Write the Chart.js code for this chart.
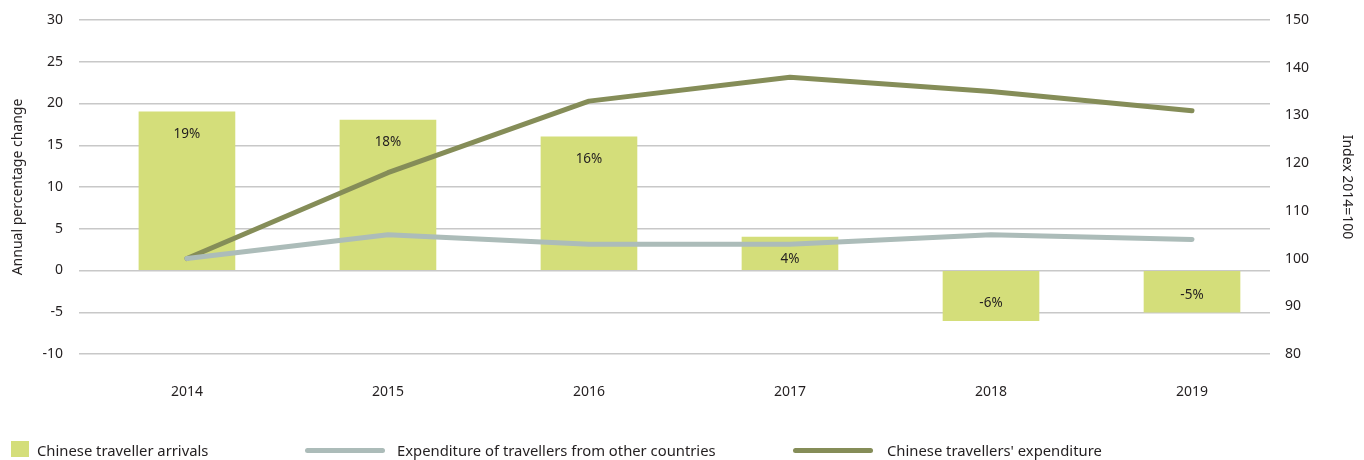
<!DOCTYPE html>
<html>
<head>
<meta charset="utf-8">
<script src="https://cdn.jsdelivr.net/npm/chart.js@4.4.1/dist/chart.umd.min.js"></script>
<style>
  html, body { margin: 0; padding: 0; background: #ffffff; }
  #wrap { position: relative; width: 1364px; height: 460px; }
  #chart { position: absolute; left: 0; top: 0; }
  .legend-item { position: absolute; top: 440px; height: 20px; font-family: "Noto Sans", sans-serif; font-size: 14.8px; color: #231f20; white-space: nowrap; line-height: 20px; }
  .swatch { position: absolute; }
</style>
</head>
<body>
<div id="wrap">
  <canvas id="chart" width="1364" height="460"></canvas>
  <div id="legend"></div>
</div>
<script>
// Years on the horizontal axis
const categories = ['2014', '2015', '2016', '2017', '2018', '2019'];
// Annual percentage change in Chinese traveller arrivals (left axis)
const arrivals = [19, 18, 16, 4, -6, -5];
// Expenditure indices, 2014 = 100 (right axis)
const otherExpenditure = [100, 105, 103, 103, 105, 104];
const chineseExpenditure = [100, 118, 133, 138, 135, 131];
// Axis tick ranges
const leftTicks = { min: -10, max: 30, step: 5 };
const rightTicks = { min: 80, max: 150, step: 10 };

const seriesNames = ['Chinese traveller arrivals', 'Expenditure of travellers from other countries', "Chinese travellers' expenditure"];
const colors = { bar: '#d4de7a', other: '#acbcb9', chinese: '#858d58' };

const FONT = '"Noto Sans", sans-serif';
const TEXT = '#231f20';

const toPoints = arr => arr.map((v, i) => ({ x: i, y: v }));

// Percentage labels written inside the end of each bar
const barLabels = {
  id: 'barLabels',
  afterDatasetsDraw(chart) {
    const meta = chart.getDatasetMeta(0);
    const ctx = chart.ctx;
    ctx.save();
    ctx.font = '13.5px ' + FONT;
    ctx.fillStyle = TEXT;
    ctx.textAlign = 'center';
    ctx.textBaseline = 'middle';
    meta.data.forEach((bar, i) => {
      const v = arrivals[i];
      const y = v >= 0 ? bar.y + 22 : bar.y - 17;
      ctx.fillText(v + '%', bar.x, y);
    });
    ctx.restore();
  }
};

// Fixed axis band sizes so the plot area sits where it should
const fitVertical = width => scale => {
  scale.width = width;
  scale.paddingTop = 0;
  scale.paddingBottom = 0;
};

new Chart(document.getElementById('chart'), {
  data: {
    datasets: [
      {
        type: 'bar',
        label: seriesNames[0],
        data: toPoints(arrivals),
        backgroundColor: colors.bar,
        barThickness: 96,
        yAxisID: 'y',
        order: 3
      },
      {
        type: 'line',
        label: seriesNames[1],
        data: toPoints(otherExpenditure),
        borderColor: colors.other,
        borderWidth: 5,
        borderCapStyle: 'round',
        borderJoinStyle: 'round',
        pointRadius: 0,
        tension: 0,
        yAxisID: 'y1',
        order: 1
      },
      {
        type: 'line',
        label: seriesNames[2],
        data: toPoints(chineseExpenditure),
        borderColor: colors.chinese,
        borderWidth: 5,
        borderCapStyle: 'round',
        borderJoinStyle: 'round',
        pointRadius: 0,
        tension: 0,
        yAxisID: 'y1',
        order: 2
      }
    ]
  },
  options: {
    responsive: false,
    animation: false,
    layout: { padding: { top: 20, right: 0, bottom: 0, left: 0 } },
    plugins: { legend: { display: false }, tooltip: { enabled: false } },
    scales: {
      x: {
        type: 'linear',
        offset: false,
        min: -0.537,
        max: 5.388,
        grid: { display: false, offset: false },
        border: { display: false },
        afterBuildTicks(scale) { scale.ticks = categories.map((c, i) => ({ value: i })); },
        afterFit(scale) { scale.height = 106; scale.paddingLeft = 0; scale.paddingRight = 0; },
        ticks: {
          padding: 22,
          font: { family: FONT, size: 14 },
          color: TEXT,
          callback: v => categories[v]
        }
      },
      y: {
        position: 'left',
        min: leftTicks.min,
        max: leftTicks.max,
        afterFit: fitVertical(79),
        ticks: { stepSize: leftTicks.step, padding: 16, font: { family: FONT, size: 14 }, color: TEXT },
        grid: { color: '#c8c8c8', lineWidth: 1.5, drawTicks: false },
        border: { display: false },
        title: { display: true, text: 'Annual percentage change', font: { family: FONT, size: 14 }, color: TEXT, padding: { top: 10, bottom: 0 } }
      },
      y1: {
        position: 'right',
        min: rightTicks.min,
        max: rightTicks.max,
        afterFit: fitVertical(94),
        ticks: { stepSize: rightTicks.step, padding: 15, font: { family: FONT, size: 14 }, color: TEXT },
        grid: { display: false, drawTicks: false },
        border: { display: false },
        title: { display: true, text: 'Index 2014=100', font: { family: FONT, size: 14 }, color: TEXT, padding: { top: 9, bottom: 0 } }
      }
    }
  },
  plugins: [barLabels]
});

// Legend row under the chart
const legendSpec = [
  { name: seriesNames[0], kind: 'box', color: colors.bar, left: 11, textLeft: 37 },
  { name: seriesNames[1], kind: 'line', color: colors.other, left: 305, textLeft: 397 },
  { name: seriesNames[2], kind: 'line', color: colors.chinese, left: 793, textLeft: 887 }
];
const legend = document.getElementById('legend');
legendSpec.forEach(item => {
  const sw = document.createElement('div');
  sw.className = 'swatch';
  sw.style.background = item.color;
  sw.style.left = item.left + 'px';
  if (item.kind === 'box') {
    sw.style.top = '441px'; sw.style.width = '18px'; sw.style.height = '16px';
  } else {
    sw.style.top = '448px'; sw.style.width = '80px'; sw.style.height = '5px'; sw.style.borderRadius = '3px';
  }
  legend.appendChild(sw);
  const tx = document.createElement('div');
  tx.className = 'legend-item';
  tx.style.left = item.textLeft + 'px';
  tx.textContent = item.name;
  legend.appendChild(tx);
});
</script>
</body>
</html>
